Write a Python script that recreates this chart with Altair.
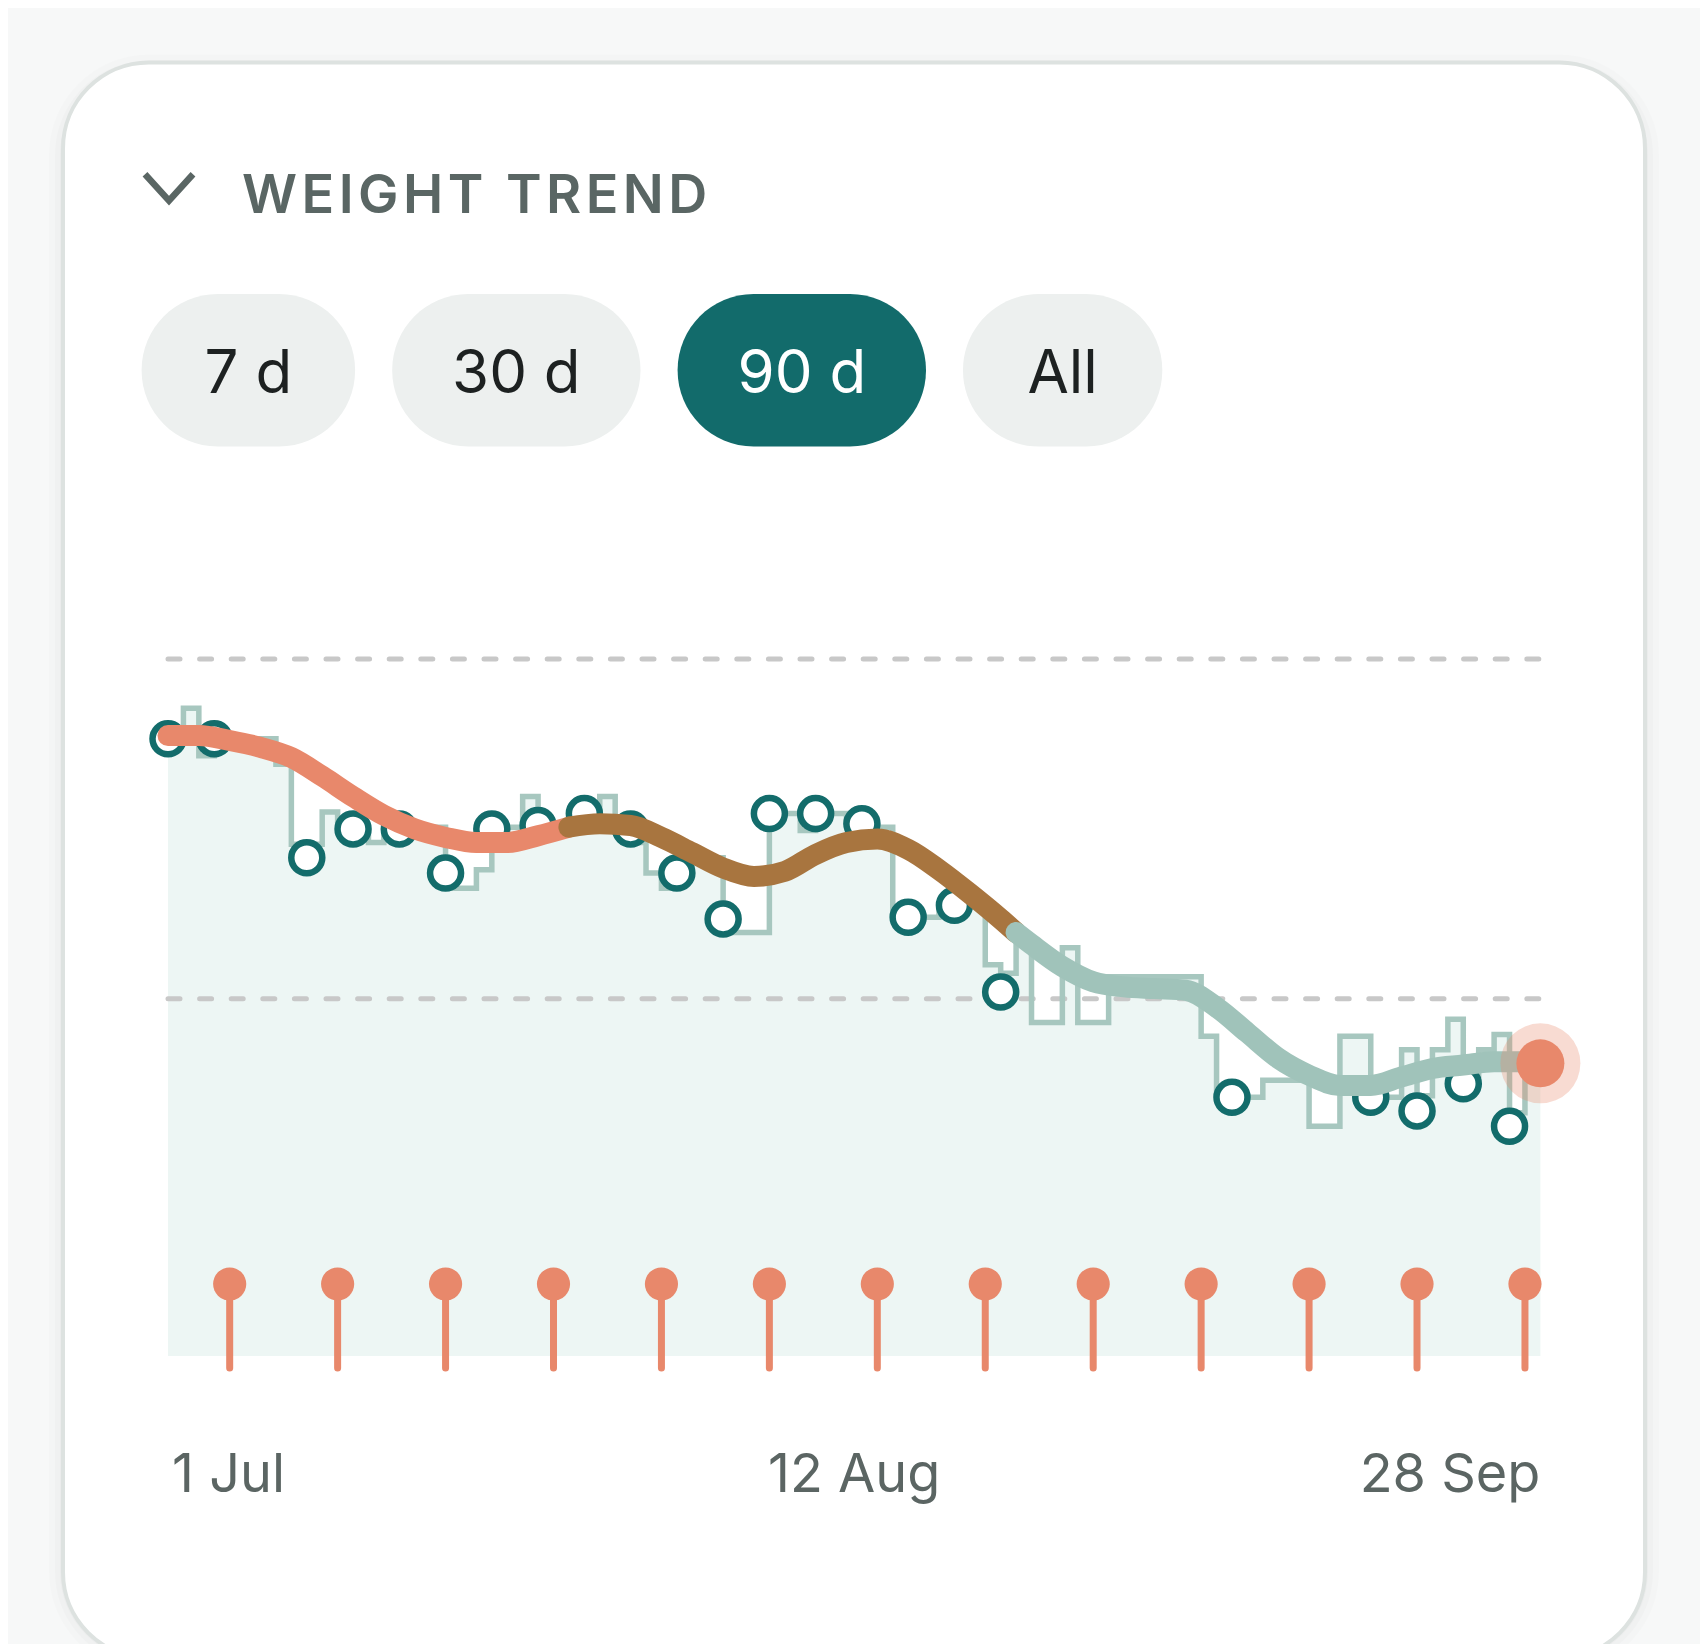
import altair as alt
import pandas as pd

# ---------------- data ----------------
title_text = "WEIGHT TREND"
range_labels = ["7 d", "30 d", "90 d", "All"]
selected_range = "90 d"

# measurement days (days since 1 Jul) and weights (kg)
measure_days = [0, 3, 9, 12, 15, 18, 21, 24, 27, 30, 33, 36, 39, 42, 45, 48, 51, 54, 69, 78, 81, 84, 87]
measure_kg = [79.53, 79.53, 78.83, 79.00, 79.00, 78.74, 79.00, 79.02, 79.09, 79.00, 78.74, 78.47,
              79.09, 79.09, 79.03, 78.48, 78.55, 78.04, 77.42, 77.42, 77.34, 77.50, 77.25]

# daily step series, days 0..89
daily_kg = [79.53, 79.71, 79.43, 79.52, 79.53, 79.53, 79.53, 79.38, 78.91, 78.91,
            79.10, 79.05, 79.01, 78.92, 79.01, 79.01, 79.01, 79.01, 78.65, 78.65,
            78.76, 78.96, 79.01, 79.19, 79.03, 78.98, 78.98, 79.08, 79.19, 78.98,
            78.92, 78.74, 78.65, 78.74, 78.83, 78.83, 78.39, 78.39, 78.39, 79.09,
            79.09, 78.99, 79.09, 79.09, 79.04, 79.02, 79.01, 78.48, 78.48, 78.48,
            78.56, 78.56, 78.56, 78.20, 78.15, 78.32, 77.86, 77.86, 78.30, 77.86,
            77.86, 78.13, 78.13, 78.13, 78.13, 78.13, 78.13, 77.78, 77.42, 77.42,
            77.42, 77.52, 77.52, 77.52, 77.25, 77.25, 77.78, 77.78, 77.42, 77.42,
            77.70, 77.43, 77.70, 77.88, 77.55, 77.70, 77.79, 77.33, 77.63, 77.63]
daily_days = list(range(len(daily_kg)))

# smoothed trend
trend_days = [0, 2, 4, 6, 8, 10, 12, 14, 16, 18, 20, 22, 24, 26, 28, 30, 32, 34, 36, 38, 40,
              42, 44, 46, 48, 50, 52, 54, 55, 56, 58, 60, 62, 64, 66, 68, 70, 72, 74, 76, 78,
              80, 82, 84, 86, 88, 89]
trend_kg = [79.55, 79.55, 79.52, 79.48, 79.42, 79.31, 79.19, 79.08, 79.00, 78.95, 78.92,
            78.92, 78.96, 79.01, 79.03, 79.02, 78.95, 78.86, 78.77, 78.72, 78.75,
            78.85, 78.92, 78.94, 78.88, 78.76, 78.62, 78.47, 78.39, 78.32, 78.19, 78.10,
            78.07, 78.06, 78.05, 77.95, 77.80, 77.65, 77.55, 77.49, 77.49,
            77.54, 77.59, 77.61, 77.63, 77.63, 77.62]
phase_names = ["early", "middle", "recent"]
phase_bounds = [(0, 26), (26, 55), (55, 89)]
phase_colors = ["#e8886b", "#a8753f", "#a0c3ba"]

checkin_days = [4, 11, 18, 25, 32, 39, 46, 53, 60, 67, 74, 81, 88]
grid_kg = [80, 78]
tick_days = [0, 44.5, 89]
tick_labels = ["1 Jul", "12 Aug", "28 Sep"]
tick_align = ["left", "center", "right"]

# ---------------- layout (pixels inside the chart) ----------------
W, H = 1692, 1636
X0_PX, DAY_PX = 160.0, 15.42          # day 0 position, px per day
Y80_PX, KG_PX = 651.0, 169.9           # 80 kg position, px per kg
FLOOR_PX = 1348.0
x_dom = [-X0_PX / DAY_PX, (W - X0_PX) / DAY_PX]
y_dom = [80 - (H - Y80_PX) / KG_PX, 80 + Y80_PX / KG_PX]
floor_kg = 80 - (FLOOR_PX - Y80_PX) / KG_PX

FONT = "Inter"
TEAL = "#136c6b"
SALMON = "#e8886b"

xs = alt.Scale(domain=x_dom, nice=False, zero=False)
ys = alt.Scale(domain=y_dom, nice=False, zero=False)


def X(f="day"):
    return alt.X(f"{f}:Q", scale=xs, axis=None)


def Y(f="kg"):
    return alt.Y(f"{f}:Q", scale=ys, axis=None)


one = pd.DataFrame({"k": [0]})
layers = []

# soft shadow + card
for grow, op in [(14, 0.012), (8, 0.014), (3, 0.018)]:
    layers.append(alt.Chart(one).mark_rect(fill="#000000", opacity=op,
                                           cornerRadius=86 + grow).encode(
        x=alt.value(55 - grow), x2=alt.value(1637 + grow),
        y=alt.value(54.5 - grow + 6), y2=alt.value(1650 + grow)))
layers.append(alt.Chart(one).mark_rect(fill="white", stroke="#dde2e0", strokeWidth=4,
                                       cornerRadius=86).encode(
    x=alt.value(55), x2=alt.value(1637), y=alt.value(54.5), y2=alt.value(1650)))

# chevron + title
layers.append(alt.Chart(one).mark_point(
    shape="M-1,-0.55L0,0.55L1,-0.55", filled=False, stroke="#5a6664", strokeWidth=6.5,
    size=2304, opacity=1).encode(
    x=alt.value(161), y=alt.value(179.5)))
layers.append(alt.Chart(one).mark_text(
    text="\u200a".join(list(title_text)), font=FONT, fontSize=54, fontWeight=600,
    color="#5a6664", align="left", baseline="alphabetic").encode(
    x=alt.value(234), y=alt.value(205)))

# range pills
pill_x = [(133.6, 347.1), (384.2, 632.5), (669.6, 918.0), (955.0, 1154.3)]
for lab, (a, b) in zip(range_labels, pill_x):
    sel = lab == selected_range
    layers.append(alt.Chart(one).mark_rect(
        fill="#126b6b" if sel else "#edf0ef", cornerRadius=76).encode(
        x=alt.value(a), x2=alt.value(b), y=alt.value(286.1), y2=alt.value(438.6)))
    layers.append(alt.Chart(one).mark_text(
        text=lab, font=FONT, fontSize=60, fontWeight=400,
        color="white" if sel else "#1d2121", align="center", baseline="alphabetic").encode(
        x=alt.value((a + b) / 2), y=alt.value(384.9)))

# step area + gridlines + step line
daily = pd.DataFrame({"day": daily_days, "kg": daily_kg, "floor": floor_kg})
layers.append(alt.Chart(daily).mark_area(interpolate="step-after", color="#edf6f4",
                                         opacity=1).encode(
    x=X(), y=Y(), y2="floor:Q"))
grid = pd.DataFrame({"kg": grid_kg, "d0": 0.0, "d1": 88.9})
layers.append(alt.Chart(grid).mark_rule(color="#c8c8c8", strokeWidth=5, strokeDash=[12, 19.6],
                                        strokeCap="round").encode(
    x=X("d0"), x2="d1:Q", y=Y()))
layers.append(alt.Chart(daily).mark_line(interpolate="step-after", color="#a7c7bf",
                                         strokeWidth=5.5).encode(x=X(), y=Y()))

# weekly check-in lollipops
chk = pd.DataFrame({"day": checkin_days})
layers.append(alt.Chart(chk).mark_rule(color=SALMON, strokeWidth=7, strokeCap="round").encode(
    x=X(), y=alt.value(1276), y2=alt.value(1360)))
layers.append(alt.Chart(chk).mark_point(filled=True, color=SALMON, size=1100, opacity=1).encode(
    x=X(), y=alt.value(1276)))

# measurements
meas = pd.DataFrame({"day": measure_days, "kg": measure_kg})
layers.append(alt.Chart(meas).mark_point(shape="circle", filled=True, fill="white", stroke=TEAL,
                                         strokeWidth=6.5, size=961, opacity=1).encode(
    x=X(), y=Y()))

# trend, coloured by phase
trend = pd.DataFrame({"day": trend_days, "kg": trend_kg})
for name, (a, b), col in zip(phase_names, phase_bounds, phase_colors):
    seg = trend[(trend.day >= a) & (trend.day <= b)].reset_index(drop=True)
    layers.append(alt.Chart(seg).mark_line(interpolate="monotone", color=col, strokeWidth=21,
                                           strokeCap="round", strokeJoin="round").encode(
        x=X(), y=Y()))

# latest value dot
last = pd.DataFrame({"day": [trend_days[-1]], "kg": [trend_kg[-1]]})
layers.append(alt.Chart(last).mark_point(filled=True, color=SALMON, size=6400, opacity=0.3).encode(
    x=X(), y=Y()))
layers.append(alt.Chart(last).mark_point(filled=True, color=SALMON, size=2304, opacity=1).encode(
    x=X(), y=Y()))

# date labels
for d, lab, al in zip(tick_days, tick_labels, tick_align):
    t = pd.DataFrame({"day": [d], "label": [lab]})
    layers.append(alt.Chart(t).mark_text(
        font=FONT, fontSize=54, color="#5b6563", align=al, baseline="alphabetic",
        dx=4 if al == "left" else 0).encode(
        x=X(), y=alt.value(1484), text="label:N"))

chart = alt.layer(*layers).properties(
    width=W, height=H, padding=0, autosize=alt.AutoSizeParams(type="none"),
    background="#f7f8f8").configure_view(strokeWidth=0)

chart.save("out.html", embed_options={"renderer": "svg", "actions": False})
